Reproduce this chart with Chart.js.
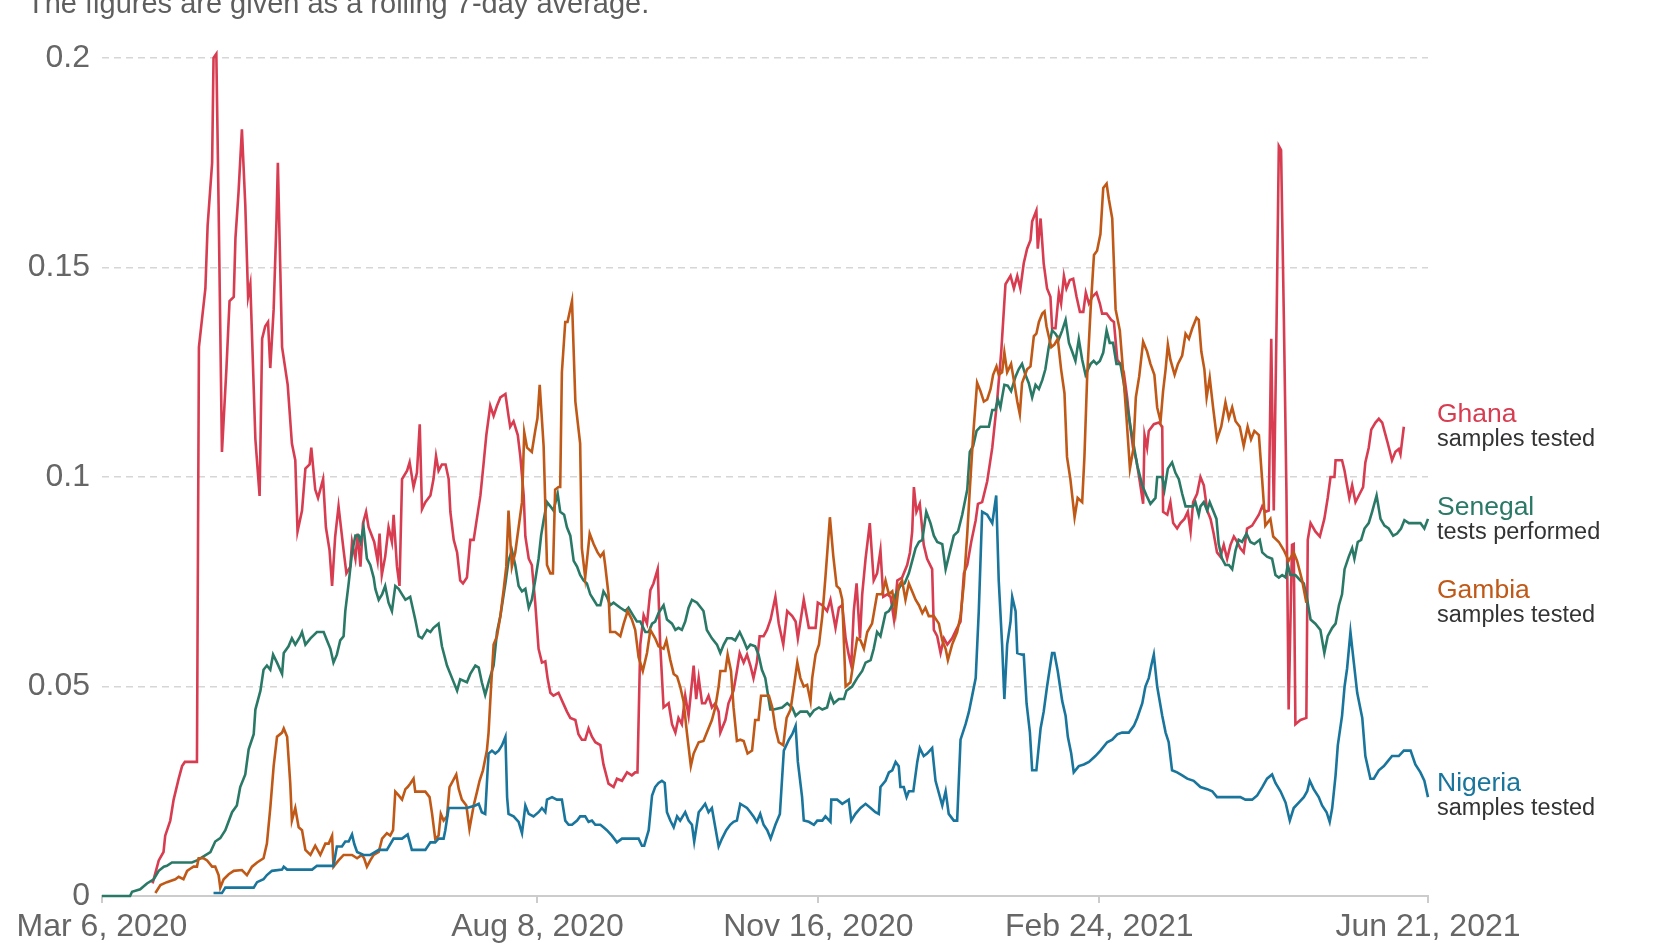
<!DOCTYPE html>
<html>
<head>
<meta charset="utf-8">
<title>Daily tests per thousand</title>
<script src="https://cdn.jsdelivr.net/npm/chart.js@4.4.1/dist/chart.umd.min.js"></script>
<style>
  html, body { margin: 0; padding: 0; background: #fff; }
  #wrap { width: 1668px; height: 943px; position: relative; }
</style>
</head>
<body>
<div id="wrap"><canvas id="myChart" width="1668" height="943"></canvas></div>
<script>
// x = days since Mar 6, 2020, y = daily tests per thousand people (7-day avg)
var startDate = new Date(2020, 2, 6)
var xTicks = [0, 155, 255, 355, 472]   // Mar 6 2020, Aug 8 2020, Nov 16 2020, Feb 24 2021, Jun 21 2021
var yTicks = [0, 0.05, 0.1, 0.15, 0.2]
var subtitle = "The figures are given as a rolling 7-day average."

var countries = ["Ghana", "Senegal", "Gambia", "Nigeria"]
var units = ["samples tested", "tests performed", "samples tested", "samples tested"]
var colors = ["#d73c50", "#2a7967", "#c05917", "#19759c"]

var ghana = [[18,0.003],[20.2,0.0085],[21.9,0.0105],[22.5,0.0144],[24.3,0.018],[25.5,0.023],[27.3,0.028],[28.5,0.031],[29.5,0.032],[33.8,0.032],[34.5,0.131],[36.8,0.145],[37.6,0.16],[39.2,0.175],[39.7,0.2],[40.7,0.201],[41.5,0.165],[42.7,0.106],[44.3,0.126],[45.4,0.142],[46.9,0.143],[47.5,0.157],[48.6,0.168],[49.8,0.183],[51,0.165],[52,0.143],[52.8,0.146],[54.6,0.109],[56.1,0.0955],[57,0.133],[58.1,0.136],[59.1,0.137],[59.9,0.126],[61.1,0.14],[62.1,0.161],[62.6,0.175],[64.1,0.131],[66.1,0.122],[67.6,0.108],[68.8,0.104],[69.6,0.087],[71.2,0.092],[72.4,0.102],[73.9,0.103],[74.5,0.107],[75.9,0.097],[76.9,0.095],[78.7,0.0995],[79.7,0.088],[81,0.0825],
  [81.9,0.074],[83,0.0858],[84.2,0.093],[86,0.0825],[87,0.077],[88.4,0.0786],[89,0.0845],[90.2,0.0805],[91,0.0865],[92,0.0786],[92.9,0.089],[94,0.0917],[94.9,0.088],[96.9,0.0845],[98.1,0.08],[98.8,0.0865],[99.6,0.0766],[100.8,0.081],[102,0.088],[103.2,0.0845],[103.8,0.091],[105,0.0786],[105.9,0.074],[106.8,0.0995],[108.6,0.1015],[109.5,0.1035],[110.9,0.0976],[112.1,0.101],[113.1,0.1126],[113.9,0.0923],[115.1,0.094],[116.9,0.0956],[118,0.0995],[118.9,0.105],[119.8,0.1015],[121,0.103],[122.3,0.103],[123.4,0.0995],[124,0.0917],[125.2,0.085],[126.4,0.082],[127.5,0.0753],[128.5,0.0746],[129.9,0.076],[131.1,0.085],[132.3,0.085],[133.2,0.089],[134.7,0.0956],[135.8,0.103],[136.8,0.11],[138.2,0.117],[139.4,0.1146],[140.6,0.117],[141.8,0.119],[143.6,0.1198],[144.7,0.1146],[145.3,0.112],[146.5,0.1133],[148,0.11],[148.9,0.105],[150.1,0.0956],[150.7,0.0858],[151.9,0.0805],[153,0.079],[154.2,0.07],[155.4,0.059],[156.6,0.0557],[157.8,0.056],
  [158.6,0.052],[159.6,0.0485],[160.7,0.0478],[162.5,0.0485],[164.3,0.0458],[165.5,0.044],[166.7,0.0425],[168.5,0.042],[169.6,0.0386],[170.8,0.0373],[172,0.0373],[173.2,0.04],[174.4,0.038],[175.6,0.0367],[177.4,0.036],[178.5,0.0314],[180.3,0.0268],[182.1,0.026],[183.3,0.028],[185.1,0.0275],[186.9,0.0295],[188.6,0.0288],[189.8,0.0295],[190.6,0.0295],[191.6,0.06],[192.8,0.067],[194,0.065],[195.2,0.073],[196.3,0.0746],[197.8,0.078],[198.7,0.06],[199.9,0.045],[201.7,0.046],[202.9,0.041],[204.1,0.039],[205.2,0.0425],[206.4,0.041],[207.6,0.0478],[208.8,0.043],[210.6,0.055],[211.5,0.047],[212.4,0.052],[213.6,0.046],[214.7,0.046],[215.9,0.0478],[217.1,0.045],[218.3,0.046],[219.5,0.044],[220.1,0.039],[221.9,0.042],[223,0.046],[224.8,0.049],[226,0.0537],[227,0.058],[228.4,0.0557],[229.6,0.0576],[230.8,0.055],[231.9,0.052],[233.1,0.0557],[234.1,0.062],[235.5,0.062],
  [236.7,0.0635],[238,0.066],[239.7,0.0714],[240.9,0.065],[242.5,0.06],[243.9,0.068],[245.7,0.0668],[246.9,0.0655],[247.7,0.0615],[249.8,0.0707],[251.6,0.064],[254,0.064],[254.8,0.07],[256.4,0.0694],[258.1,0.068],[259.3,0.0707],[261.1,0.064],[262.3,0.0688],[263.5,0.0694],[264.7,0.0615],[265.8,0.0576],[266.7,0.055],[267.6,0.068],[268.6,0.0746],[269.8,0.0615],[270.6,0.072],[271.8,0.0805],[273.3,0.089],[274.7,0.0753],[275.9,0.077],[277.1,0.0825],[278.1,0.0714],[279.5,0.072],[280.7,0.0714],[281.9,0.066],[283.1,0.0753],[284.8,0.076],[286.6,0.079],[287.6,0.082],[288.4,0.087],[289,0.0976],[289.9,0.0917],[291.1,0.0936],[292.5,0.0838],[293.7,0.0805],[295.5,0.078],[296.1,0.0635],[297.3,0.062],[298.5,0.058],[299.7,0.0615],[300.9,0.06],[302.6,0.0615],[304.4,0.064],[305.6,0.0655],[306.8,0.077],[308,0.079],[309.4,0.0845],[311,0.0897],[311.8,0.0936],[313.3,0.094],
  [315.1,0.099],[316.9,0.107],[318.6,0.118],[320.1,0.13],[321.6,0.146],[323.4,0.148],[324.6,0.145],[325.8,0.148],[326.9,0.145],[328.1,0.151],[329.3,0.1545],[330.5,0.1565],[331.1,0.161],[332.6,0.1636],[333.1,0.1545],[334.1,0.1617],[335.2,0.151],[336.4,0.145],[337.6,0.143],[338.2,0.1355],[339.4,0.1355],[340.6,0.144],[341.4,0.1414],[342.4,0.148],[343.3,0.145],[344.5,0.147],[345.7,0.1473],[346.9,0.143],[348.1,0.1394],[349.3,0.1394],[350.2,0.144],[351.3,0.1414],[352.5,0.143],[354,0.144],[355.2,0.1414],[356,0.139],[357.6,0.139],[359.2,0.1375],[360.2,0.137],[361.4,0.128],[362.5,0.127],[363.7,0.125],[364.9,0.119],[365.9,0.1126],[367,0.107],[368.2,0.104],[369.4,0.099],[370.6,0.0936],[371.1,0.11],[372,0.107],[372.6,0.111],[374.4,0.1126],[376.2,0.113],[377.4,0.112],[377.7,0.0917],[379.2,0.091],[380.3,0.094],[381.3,0.089],[382.7,0.0877],[383.9,0.089],[385.3,0.09],[386.5,0.0917],[387.5,0.087],[388.4,0.094],[389.8,0.096],
  [391,0.1],[392.2,0.098],[393.4,0.092],[394.6,0.09],[395.7,0.0865],[396.9,0.082],[398.1,0.081],[399.3,0.0838],[400.5,0.0805],[401.7,0.0838],[402.9,0.0858],[404.1,0.0845],[405.2,0.083],[406.4,0.082],[407.6,0.0877],[409.4,0.0884],[410.6,0.0897],[411.8,0.091],[413,0.093],[414.1,0.0917],[415.3,0.092],[416.2,0.133],[417.1,0.092],[418.1,0.137],[418.9,0.179],[419.7,0.178],[420.7,0.1375],[421.6,0.097],[422.4,0.0445],[423.6,0.0838],[424.2,0.084],[424.8,0.041],[426.6,0.042],[428.7,0.0425],[429.2,0.085],[430.2,0.089],[431.9,0.087],[433.5,0.0858],[435.1,0.09],[436.3,0.095],[437.3,0.1],[438.7,0.1],[439.1,0.104],[441.4,0.104],[442.3,0.1015],[443.2,0.098],[444,0.095],[445,0.098],[446.2,0.094],[447.7,0.096],[448.9,0.0976],[449.7,0.1035],[450.9,0.107],[451.8,0.1113],[453.3,0.113],[454.5,0.1139],[455.7,0.113],[456.9,0.11],[457.7,0.108],[459.2,0.104],[460.4,0.106],[461.6,0.1067],[462.2,0.1054],[463.4,0.112]]

var senegal = [[0,0],[10,0],[10.7,0.001],[13.6,0.0016],[16,0.003],[18.4,0.004],[20.2,0.006],[22,0.007],[23.1,0.0072],[24.9,0.008],[32,0.008],[33.8,0.0085],[35,0.009],[38.6,0.0105],[40.3,0.013],[42.1,0.0138],[43.9,0.0157],[46.3,0.02],[48,0.0216],[49.2,0.026],[51,0.029],[52.2,0.035],[54,0.0386],[54.6,0.0445],[56.4,0.049],[57.5,0.054],[58.7,0.055],[59.9,0.054],[60.9,0.0576],[62.3,0.0557],[64.1,0.053],[64.7,0.058],[66.4,0.0596],[67.6,0.0615],[68.8,0.06],[70.6,0.062],[71.2,0.063],[72.4,0.06],[74.2,0.0615],[76.5,0.063],[78.9,0.063],[80.1,0.061],[81.3,0.059],[82.4,0.0557],[83.6,0.0576],[84.8,0.061],[86,0.062],[86.6,0.068],[87.8,0.0746],[89,0.082],[90.2,0.086],[91.4,0.086],[92,0.0845],[93.1,0.088],[94.3,0.0805],[95.5,0.079],[96.7,0.076],[97.3,0.0733],[98.5,0.0707],[99.7,0.072],[100.8,0.074],[102,0.07],[103.2,0.068],[104.4,0.074],[105.6,0.0733],[106.8,0.072],[108,0.0707],[109.7,0.0714],[111.5,0.066],[112.7,0.062],[113.9,0.0615],[115.7,0.0635],[116.9,0.063],[118,0.064],[119.8,0.065],[121,0.0596],[122.8,0.055],[124.6,0.052],[126.4,0.049],[127.5,0.0517],[129.9,0.051],[131.1,0.053],[132.9,0.055],[134.1,0.0545],[135.2,0.051],[136.4,0.048],[137.6,0.051],[139.4,0.055],[140.6,0.063],[141.8,0.0668],[143.6,0.0746],[144.7,0.08],[145.9,0.0825],[147.1,0.079],[148.3,0.074],[149.5,0.0727],[150.7,0.0733],[151.9,0.0688],[153,0.0707],[154.2,0.0753],[155.4,0.0805],[156.3,0.086],[157.2,0.0897],[158.4,0.094],[159.6,0.093],
  [160.7,0.092],[162.2,0.096],[163.1,0.0917],[164.5,0.091],[165.5,0.088],[166.7,0.086],[167.9,0.08],[169.1,0.0786],[170.2,0.0766],[171.4,0.0753],[172.6,0.0746],[173.8,0.072],[175,0.0707],[176.2,0.0694],[177.4,0.0694],[178.5,0.0727],[179.7,0.0714],[180.9,0.0694],[182.1,0.07],[183.3,0.0694],[184.5,0.0688],[186.3,0.068],[187.4,0.0688],[189.2,0.0668],[190.4,0.0655],[191.6,0.0655],[193.4,0.063],[194.6,0.063],[195.8,0.065],[196.9,0.0655],[198.1,0.0675],[199.9,0.0694],[201.1,0.066],[202.9,0.065],[204.1,0.0635],[205.2,0.064],[206.4,0.0635],[207.6,0.0655],[208.8,0.0688],[210,0.0707],[211.8,0.07],[214.1,0.068],[215.3,0.0635],[217.1,0.0615],[218.9,0.06],[220.1,0.058],[221.3,0.06],[222.5,0.0615],[224.2,0.0615],[225.4,0.061],[227,0.063],[228.4,0.061],[229.6,0.059],[230.8,0.06],[232.5,0.0596],[233.7,0.0576],[234.9,0.054],[236.1,0.052],[237.3,0.047],[237.9,0.0445],[239.1,0.0445],[242.1,0.045],[243.9,0.046],[245.7,0.045],[246.9,0.043],[248.6,0.044],[251,0.044],[252,0.043],[253.4,0.0443],[255.2,0.045],[256.4,0.0445],[258.1,0.045],[259.3,0.048],[260.5,0.046],[262.3,0.047],[264.1,0.047],[265,0.049],[267,0.05],[268.8,0.052],[270.6,0.0537],[271.8,0.0557],[273.6,0.0563],[274.7,0.059],[275.9,0.063],[277.1,0.062],[278.9,0.0675],[280.1,0.068],[281.3,0.0694],[282.5,0.072],[284.2,0.074],[285.7,0.0746],[287.2,0.077],[288.4,0.08],[289.6,0.083],[290.8,0.0845],[292,0.085],[293.4,0.0917],[294.9,0.089],[296.1,0.086],[297.3,0.0845],[299.1,0.084],[300.3,0.078],[301.4,0.081],[303.2,0.086],[304.7,0.087],[306.2,0.091],[308,0.097],[308.9,0.106],[310.1,0.1074],[311.3,0.111],[312.7,0.112],
  [315.7,0.112],[316.9,0.116],[318,0.116],[318.9,0.1185],[319.8,0.1166],[320.4,0.119],[321.2,0.122],[322.4,0.1218],[323.6,0.1205],[325.2,0.124],[326.3,0.1257],[327.5,0.127],[328.7,0.1244],[329.9,0.1224],[331.1,0.119],[332.3,0.122],[333.5,0.121],[334.7,0.1231],[335.8,0.1257],[337,0.131],[338.2,0.135],[339.4,0.1342],[340.6,0.1329],[341.8,0.135],[343,0.1375],[344.2,0.132],[345.3,0.13],[346.5,0.1277],[347.7,0.1329],[348.9,0.128],[350.1,0.1244],[351.9,0.127],[353,0.1277],[354,0.127],[355.2,0.1277],[356.4,0.1297],[357.6,0.135],[358.7,0.132],[359.9,0.132],[361.1,0.127],[362.5,0.127],[363.7,0.1224],[364.9,0.117],[366.1,0.112],[367.3,0.1074],[368.5,0.1028],[370.3,0.098],[371.8,0.0956],[373.2,0.0936],[375,0.095],[375.6,0.1],[377.4,0.1],[378.2,0.097],[379.4,0.102],[380.9,0.1035],[382.1,0.101],[383.3,0.0995],[384.5,0.096],[385.7,0.093],[386.9,0.093],[388.4,0.093],[389.2,0.094],[390.4,0.091],
  [391,0.093],[392.2,0.094],[393.4,0.092],[394.3,0.094],[395.5,0.092],[396.7,0.09],[397.5,0.084],[398.7,0.0805],[399.9,0.079],[401.1,0.079],[402.3,0.078],[403.5,0.0825],[404.6,0.085],[405.8,0.0845],[407.4,0.0865],[408.8,0.0845],[410.2,0.084],[412.1,0.085],[413,0.082],[414.7,0.081],[416.5,0.0805],[417.7,0.0766],[418.9,0.076],[420.1,0.0766],[421.3,0.076],[422.1,0.079],[423,0.0766],[424.8,0.0766],[426.6,0.0753],[427.8,0.0746],[429,0.0707],[430.2,0.066],[431.9,0.065],[433.7,0.0635],[435.1,0.058],[436.3,0.062],[437.9,0.064],[439.1,0.065],[440.3,0.0694],[441.4,0.072],[442.3,0.078],[443.8,0.081],[445,0.083],[445.8,0.0805],[447,0.0845],[448.2,0.085],[449.4,0.0877],[450.9,0.089],[452.1,0.0917],[453.7,0.0956],[455.1,0.09],[456.5,0.0884],[458,0.0877],[459.6,0.086],[461,0.0865],[462.4,0.0877],[463.6,0.0897],[465.2,0.089],[469.3,0.089],[470.7,0.0877],[472,0.09]]

var gambia = [[19,0.0007],[20.8,0.0026],[23.1,0.0033],[26.1,0.004],[27.3,0.0046],[29,0.004],[30.3,0.006],[31.4,0.0065],[32.6,0.007],[33.8,0.007],[34.4,0.009],[36.2,0.009],[37.4,0.0085],[39.2,0.007],[40.3,0.007],[41.5,0.005],[42.1,0.002],[43.3,0.004],[45.1,0.0052],[46.9,0.006],[49.8,0.0062],[51.6,0.005],[53.4,0.007],[55.2,0.008],[57.5,0.009],[58.7,0.0125],[59.9,0.021],[61.1,0.031],[62.3,0.038],[64.1,0.039],[64.7,0.04],[65.9,0.038],[67,0.027],[67.6,0.018],[68.8,0.021],[70,0.0164],[71.2,0.0157],[72.4,0.011],[74.2,0.0098],[75.9,0.012],[77.7,0.0098],[79.5,0.0125],[80.7,0.0125],[81.9,0.0144],[82.4,0.007],[84.2,0.0085],[86,0.0098],[89,0.0098],[90.8,0.009],[92.5,0.0098],[93.3,0.009],[94.3,0.007],[95.5,0.0085],[96.7,0.0098],[98.5,0.0105],[99.7,0.0137],[101.4,0.015],[102.6,0.0144],[103.6,0.0157],[104.4,0.0249],[105.6,0.024],[106.8,0.023],[108,0.0255],[108.8,0.026],[109.7,0.0268],[110.9,0.028],[111.5,0.0249],[115.1,0.0249],[116.6,0.0236],[117.5,0.0196],[118.6,0.0137],[119.8,0.0144],[120.6,0.0196],[121.6,0.018],[122.8,0.019],[123.7,0.026],[124.9,0.0275],[126.1,0.029],[127,0.0255],[128.1,0.023],[129.7,0.0216],[130.8,0.016],[132.3,0.0216],[133.5,0.0249],[134.4,0.0275],[135.6,0.03],[137,0.0347],[137.6,0.039],[138.5,0.05],[139.4,0.06],[140.6,0.062],[141.8,0.0668],[143,0.0733],[143.9,0.0786],[144.7,0.092],[145.9,0.0786],[147.1,0.082],[148.3,0.088],[149.5,0.094],[150.3,0.1107],[151.3,0.107],[153,0.106],[154.2,0.111],[155,0.114],[155.8,0.122],[157.2,0.1074],[158.4,0.079],[159.6,0.077],
  [160.5,0.077],[161.3,0.097],[162.5,0.0976],[163.1,0.0976],[163.7,0.125],[164.9,0.137],[165.7,0.137],[167.3,0.142],[168.5,0.118],[170.2,0.108],[170.8,0.083],[172,0.076],[173.6,0.0865],[175,0.084],[176.4,0.082],[177.4,0.081],[178.5,0.082],[179.1,0.079],[180.3,0.072],[180.9,0.063],[182.7,0.063],[184.5,0.062],[185.7,0.065],[187.1,0.068],[188.6,0.066],[189.8,0.0635],[191,0.057],[192.5,0.0537],[194,0.058],[195.2,0.0635],[196.9,0.0615],[198.1,0.0596],[199.9,0.059],[200.9,0.061],[202.3,0.0563],[203.5,0.053],[204.7,0.0524],[205.8,0.05],[207,0.0465],[208.2,0.039],[209.6,0.031],[210.6,0.034],[212.4,0.0367],[214.1,0.037],[215.3,0.039],[217.1,0.042],[218.3,0.045],[219.5,0.05],[220.1,0.0537],[221.9,0.0537],[222.7,0.0576],[223.9,0.0537],[224.8,0.045],[226,0.037],[227.2,0.0373],[228.4,0.037],[229.8,0.034],[231.4,0.0347],[232.5,0.042],[233.7,0.042],[234.6,0.0478],[235.6,0.0478],[237.4,0.0478],[238.6,0.045],[239.7,0.04],[240.9,0.0367],[242.5,0.036],[243.7,0.0425],[245.1,0.0445],[246.3,0.05],[247.5,0.0557],[248.6,0.052],[249.8,0.05],[251,0.0504],[252.2,0.0465],[252.8,0.052],[254,0.0576],[255.2,0.06],[256.4,0.0668],[257.5,0.076],[259.1,0.0904],[260.3,0.0812],[261.5,0.074],[262.6,0.0733],[263.5,0.0707],[264.7,0.05],[266.4,0.051],[267.6,0.0563],[268.8,0.0615],[270,0.061],[271.2,0.059],[272.4,0.063],[274.1,0.065],[275.9,0.072],[277.7,0.072],[278.9,0.0753],[280.1,0.072],[281.3,0.0727],[282.5,0.0675],[283.6,0.074],[284.8,0.0753],[286,0.0707],[287.2,0.0746],[288.4,0.0727],[289.6,0.0707],[290.8,0.0694],[292,0.0675],[293.1,0.0688],[294.3,0.0668],[296.1,0.0668],[297.9,0.065],[299.1,0.061],[300.3,0.059],[301.1,0.0563],[302.6,0.06],[304.4,0.063],[305.6,0.0668],[306.8,0.0746],[308,0.0865],[308.9,0.097],[310.1,0.11],[311.5,0.1225],
  [312.7,0.1205],[313.9,0.118],[315.1,0.1185],[316.3,0.121],[317.2,0.1244],[318.4,0.1264],[319.2,0.1244],[320.4,0.125],[321.2,0.1297],[322.2,0.125],[323.6,0.127],[324.6,0.123],[325.8,0.118],[326.7,0.115],[327.5,0.1224],[329.3,0.1257],[330.5,0.1264],[331.7,0.1336],[332.6,0.1342],[333.5,0.137],[334.7,0.139],[335.5,0.1395],[336.2,0.136],[337,0.1336],[337.9,0.131],[339,0.1316],[340.2,0.133],[341.4,0.1257],[342.6,0.12],[343.5,0.1048],[344.7,0.0995],[346.2,0.0904],[347.3,0.095],[348.9,0.094],[349.7,0.1048],[350.7,0.1244],[351.9,0.14],[353.1,0.153],[354.2,0.154],[355.4,0.158],[356.4,0.169],[357.6,0.17],[358.4,0.1663],[359.6,0.1617],[360.8,0.14],[362.3,0.135],[363.5,0.125],[364.7,0.1139],[365.9,0.102],[367.1,0.1067],[368,0.119],[369.2,0.124],[370.6,0.1323],[372,0.13],[373.2,0.127],[374.6,0.1244],[375.6,0.1166],[376.8,0.1133],[377.7,0.1205],[378.6,0.1257],[379.4,0.1316],[380.3,0.128],[381.8,0.1244],[383,0.127],[384.5,0.129],[385.7,0.1342],[386.9,0.133],[388.1,0.1355],[389.6,0.138],[390.4,0.1375],[391.3,0.13],[392.4,0.1257],[393.2,0.119],[394.3,0.1237],[395.5,0.1166],[396.9,0.109],[398.4,0.112],[399.9,0.1178],[401.1,0.114],[402.3,0.1166],[403.5,0.1133],[405,0.112],[406.4,0.1074],[407.8,0.112],[409,0.109],[410.2,0.111],[411.8,0.11],[413,0.099],[414.1,0.0884],[415.9,0.09],[416.9,0.0858],[418.9,0.0845],[420.7,0.0825],[422.4,0.08],[424.2,0.082],[425.4,0.08],[427.2,0.0753],[428.7,0.07]]

var nigeria = [[39.7,0.0007],[42.7,0.0007],[43.9,0.002],[54,0.002],[55.2,0.0033],[57.5,0.004],[58.7,0.005],[60.5,0.006],[64.1,0.0063],[64.7,0.007],[65.9,0.0063],[74.8,0.0063],[76.5,0.0072],[82.4,0.0072],[83.6,0.0118],[85.4,0.0118],[86.6,0.013],[87.8,0.013],[89,0.0147],[89.8,0.0124],[90.8,0.0105],[93.1,0.0098],[95.5,0.0098],[98.5,0.011],[101.4,0.011],[103.8,0.0137],[106.8,0.0137],[108.8,0.0147],[110.3,0.011],[115.1,0.011],[116.9,0.0128],[118.6,0.0128],[119.8,0.0137],[121.6,0.0137],[122.2,0.0157],[123.4,0.021],[125.2,0.021],[129.9,0.021],[132.9,0.0216],[134.1,0.022],[135.2,0.02],[136.4,0.0196],[137.6,0.034],[138.8,0.0347],[140,0.034],[141.2,0.0347],[142.4,0.036],[143.6,0.038],[144.2,0.0236],[144.7,0.0196],[146.5,0.019],[148.3,0.0177],[149.5,0.015],[150.7,0.0216],[151.9,0.0196],[153.6,0.019],[155.4,0.02],[156.6,0.021],[157.8,0.02],[158.4,0.023],[160.2,0.0236],[161.9,0.023],[163.7,0.023],[164.9,0.018],[166.1,0.017],[167.3,0.017],[169.1,0.018],[170.2,0.019],[172,0.019],[173.2,0.0177],[174.4,0.018],[175.6,0.017],[177.4,0.017],[178.5,0.0164],[179.7,0.0157],[181.5,0.0144],[183.3,0.0128],[185.1,0.0137],[191,0.0137],[192.2,0.012],[193,0.012],[194.6,0.0157],[195.8,0.024],[196.9,0.026],[198.1,0.027],[199.3,0.0275],[200.3,0.027],[201.1,0.02],[202.3,0.018],[203.5,0.0164],[204.7,0.019],[205.8,0.018],[207.6,0.02],[208.8,0.018],[210,0.017],[210.8,0.013],[212.4,0.02],[213.6,0.021],[214.7,0.022],[215.9,0.02],[217.1,0.021],[218.3,0.0164],[219.5,0.0118],[220.7,0.0137],[222.2,0.0157],[223.6,0.017],[224.8,0.0177],[226,0.018],[227.2,0.022],[228.2,0.0216],[229.6,0.021],[230.8,0.02],[231.9,0.019],[233.1,0.0177],[234.3,0.0196],[235.5,0.017],[236.8,0.0157],[238,0.0137],[239.7,0.017],[241.3,0.0196],[242.7,0.0347],[244.5,0.0373],[245.7,0.0386],[246.9,0.0406],[247.7,0.032],[249.2,0.0236],[249.8,0.018],[251.6,0.0177],[253.4,0.017],[254.6,0.018],[256.4,0.018],[257.5,0.019],[259.3,0.0177],[259.6,0.023],[261.7,0.023],[263.5,0.022],[265.8,0.023],[266.7,0.018],[268.2,0.0196],[270,0.021],[271.8,0.022],[273.6,0.021],[275.3,0.02],[276.5,0.0196],[277.1,0.026],[278.9,0.0275],[280.1,0.0295],[281.3,0.03],[282.5,0.032],[283.6,0.031],[284.2,0.026],[285.4,0.026],[286.4,0.0236],[287.2,0.025],[288.8,0.025],[290.2,0.032],[291.1,0.0353],[292.5,0.0334],[293.7,0.034],[295.5,0.0353],[296.7,0.0275],[299.1,0.0216],[300.3,0.025],[301.4,0.0196],[303.2,0.018],[304.4,0.018],[305.6,0.0373],[307.4,0.041],[308.6,0.044],[309.8,0.048],[311,0.052],[312.1,0.068],[313.3,0.0917],
  [315.1,0.091],[316.9,0.089],[318.3,0.0956],[319.2,0.0753],[320.4,0.06],[321.2,0.047],[322.2,0.06],[323.4,0.0655],[324,0.0714],[325.2,0.068],[325.8,0.058],[327.5,0.0576],[328.1,0.0576],[329.1,0.046],[330.3,0.039],[331.1,0.03],[332.6,0.03],[334.1,0.04],[335.2,0.044],[336.4,0.05],[338.2,0.058],[339,0.058],[340.2,0.0537],[341.8,0.0465],[343,0.043],[343.8,0.038],[345,0.034],[345.9,0.0295],[347.7,0.031],[349.5,0.0314],[351.3,0.032],[353.6,0.0334],[355.4,0.0347],[357.8,0.0367],[359.6,0.0373],[361.4,0.0386],[363.1,0.039],[365.5,0.039],[367.3,0.0406],[368.5,0.0425],[370.3,0.046],[371.4,0.05],[372.6,0.052],[373.5,0.055],[374.4,0.0576],[375.6,0.05],[377.4,0.043],[378.6,0.039],[379.7,0.0367],[380.9,0.03],[382.7,0.0295],[384.5,0.0288],[386.3,0.028],[388.6,0.0275],[391,0.026],[393.4,0.0255],[395.2,0.025],[396.9,0.0236],[405.2,0.0236],[407,0.023],[409.4,0.023],[411.2,0.024],[413,0.026],[414.7,0.028],[416.5,0.029],[417.7,0.027],[419.5,0.025],[421.3,0.0223],[422.8,0.018],[424.2,0.021],[426,0.0223],[427.8,0.0236],[429,0.025],[429.9,0.0275],[431.3,0.0255],[433.1,0.0236],[434.3,0.0216],[435.9,0.02],[437,0.0177],[437.9,0.021],[439.1,0.0288],[439.9,0.036],[441.4,0.043],[442.3,0.05],[443.2,0.0543],[444.4,0.063],[445.6,0.0557],[446.8,0.0485],[448.6,0.0425],[449.7,0.0334],[451.5,0.028],[452.7,0.028],[454.5,0.03],[456.3,0.031],[457.5,0.032],[459.2,0.0334],[461.6,0.0334],[463.4,0.0347],[465.8,0.0347],[467.5,0.0314],[469.3,0.0295],[470.7,0.0275],[472,0.0236]]

var series = [ghana, senegal, gambia, nigeria]

// label layout on the right of the plot (baseline of the name line, px)
var labelBaselines = [422, 515, 598, 791]

var FONT = "'Liberation Sans', Arial, Helvetica, sans-serif"

function dayLabel(d) {//turns a day offset into "Mon D, YYYY"
    var dt = new Date(startDate.getTime())
    dt.setDate(dt.getDate() + d)
    var months = ["Jan","Feb","Mar","Apr","May","Jun","Jul","Aug","Sep","Oct","Nov","Dec"]
    return months[dt.getMonth()] + " " + dt.getDate() + ", " + dt.getFullYear()
}

var textPlugin = {
    id: 'owidText',
    afterDraw: function (chart) {
        var ctx = chart.ctx
        var area = chart.chartArea
        ctx.save()
        ctx.textBaseline = 'alphabetic'
        ctx.textAlign = 'left'
        // subtitle, cut by the top edge like in the source
        ctx.fillStyle = '#5e5e5e'
        ctx.font = '29px ' + FONT
        ctx.fillText(subtitle, 27, 13)
        // line end labels
        for (var i = 0; i < countries.length; i++) {
            ctx.fillStyle = colors[i]
            ctx.font = '26.5px ' + FONT
            ctx.fillText(countries[i], area.right + 9, labelBaselines[i])
            ctx.fillStyle = '#333333'
            ctx.font = '23.5px ' + FONT
            ctx.fillText(units[i], area.right + 9, labelBaselines[i] + 24)
        }
        ctx.restore()
    }
}

var datasets = series.map(function (s, i) {
    return {
        label: countries[i],
        data: s.map(function (p) { return { x: p[0], y: p[1] } }),
        borderColor: colors[i],
        backgroundColor: colors[i],
        borderWidth: 2.6,
        pointRadius: 0,
        tension: 0,
        clip: false
    }
}).reverse()

new Chart(document.getElementById("myChart"), {
    type: 'line',
    data: { datasets: datasets },
    options: {
        responsive: false,
        animation: false,
        events: [],
        layout: { padding: { top: 58, right: 240, left: 0, bottom: 0 } },
        plugins: { legend: { display: false }, tooltip: { enabled: false } },
        scales: {
            x: {
                type: 'linear',
                min: 0,
                max: 472,
                afterBuildTicks: function (scale) {
                    scale.ticks = xTicks.map(function (v) { return { value: v } })
                },
                afterFit: function (scale) { scale.height = 47 },
                grid: { drawOnChartArea: false, drawTicks: true, tickLength: 7, color: '#cccccc', lineWidth: 2 },
                border: { display: true, color: '#cccccc', width: 2 },
                ticks: {
                    autoSkip: false,
                    maxRotation: 0,
                    padding: 5,
                    color: '#666666',
                    font: { family: FONT, size: 32 },
                    callback: function (v) { return dayLabel(v) }
                }
            },
            y: {
                min: 0,
                max: 0.2,
                afterBuildTicks: function (scale) {
                    scale.ticks = yTicks.map(function (v) { return { value: v } })
                },
                afterFit: function (scale) { scale.width = 102 },
                grid: { drawTicks: false, color: '#d6d6d6', lineWidth: 1.5 },
                border: { display: false, dash: [7, 5] },
                ticks: {
                    padding: 12,
                    color: '#666666',
                    font: { family: FONT, size: 32 },
                    callback: function (v) { return String(v) }
                }
            }
        }
    },
    plugins: [textPlugin]
});
</script>
</body>
</html>
